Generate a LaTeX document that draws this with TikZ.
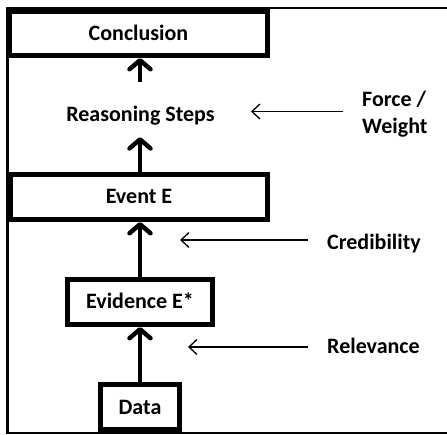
\documentclass[tikz,border=0pt]{standalone}
\usepackage{fontspec}
\setmainfont{Carlito}
\usetikzlibrary{arrows.meta}
\begin{document}
\begin{tikzpicture}[x=1pt,y=-1pt,
  label font/.style={font=\fontsize{22}{27}\selectfont\bfseries},
  box/.style={draw, line width=5pt, inner sep=0pt, minimum height=45pt,
              text height=14pt, text depth=0pt, label font},
  plain/.style={inner sep=0pt, text height=14pt, text depth=0pt, label font},
  side/.style={inner sep=0pt, align=left, label font},
  bigarrow/.style={line width=4.5pt, -{Straight Barb[length=9pt, width=21pt, line cap=round, line join=round]}},
  thinarrow/.style={line width=1.3pt, -{Straight Barb[length=8pt, width=15pt]}},
  frame/.style={line width=2.8pt}]
  \useasboundingbox (0,0) rectangle (447,435);

  % outer frame (open on the right)
  \draw[frame] (447,8) -- (7.5,8) -- (7.5,433) -- (447,433);

  % chain of boxes
  \node[box, minimum width=258pt, minimum height=44pt] (concl) at (138.5,33.5) {Conclusion};
  \node[plain] (reason) at (140.5,114.7) {Reasoning Steps};
  \node[box, minimum width=257pt] (event) at (139,197) {Event E};
  \node[box, minimum width=145pt] (evid) at (140,302) {Evidence E*};
  \node[box, minimum width=79pt] (data) at (140,407) {Data};

  % upward flow
  \draw[bigarrow, shorten <=25.7pt] (reason.north -| evid.north) -- (concl.south -| evid.north);
  \draw[bigarrow, shorten >=15.3pt] (event.north -| evid.north) -- (reason.south -| evid.north);
  \draw[bigarrow] (evid.north) -- (evid.north |- event.south);
  \draw[bigarrow] (data.north) -- (evid.south);

  % qualifying labels
  \node[side, anchor=base west] (fw) at (362,133.3) {Force /\\Weight};
  \node[plain, anchor=west] (cred) at (327,243) {Credibility};
  \node[plain, anchor=west] (rel) at (327,346.5) {Relevance};

  \coordinate (fwtip) at (251,111.5);
  \coordinate (credtip) at (180,240);
  \coordinate (reltip) at (188,347);

  \draw[thinarrow] ([xshift=-19pt]fw.west |- fwtip) -- (fwtip);
  \draw[thinarrow] ([xshift=-19pt]cred.west |- credtip) -- (credtip);
  \draw[thinarrow] ([xshift=-19pt]rel.west |- reltip) -- (reltip);
\end{tikzpicture}
\end{document}
